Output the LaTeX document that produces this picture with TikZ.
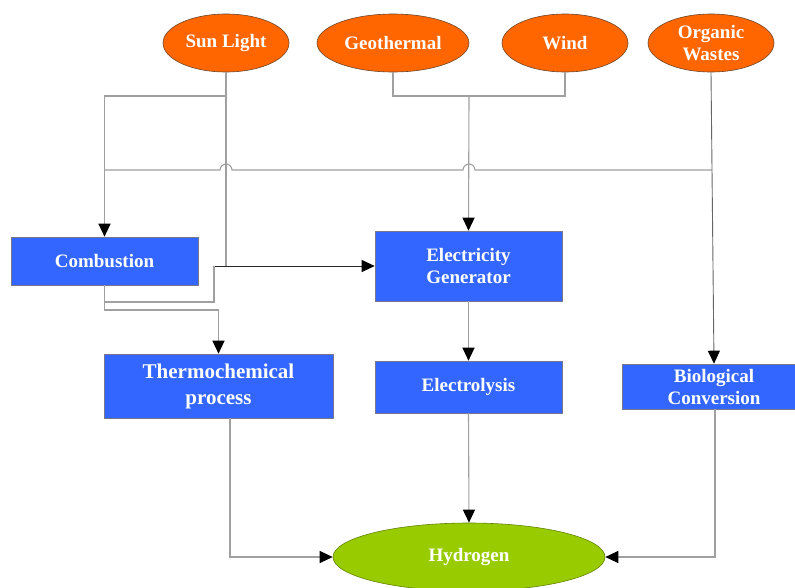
\documentclass[tikz,border=0pt]{standalone}
\usepackage{fontspec}
\setmainfont{Liberation Serif}
\usetikzlibrary{arrows.meta,shapes.geometric}
\definecolor{srcorange}{RGB}{255,102,0}
\definecolor{boxblue}{RGB}{51,102,255}
\definecolor{hydgreen}{RGB}{153,204,0}
\definecolor{linegray}{RGB}{160,160,160}
\begin{document}
\begin{tikzpicture}[x=1pt,y=-1pt,
  lbl/.style={text=white,font=\fontsize{19}{22}\selectfont\bfseries,align=center,inner sep=0pt},
  srcnode/.style={ellipse,fill=srcorange,draw={rgb,255:red,110;green,70;blue,40},line width=0.6pt,lbl},
  procbox/.style={rectangle,fill=boxblue,draw={rgb,255:red,120;green,120;blue,140},line width=0.6pt,lbl},
  hydnode/.style={ellipse,fill=hydgreen,draw={rgb,255:red,100;green,130;blue,0},line width=0.6pt,lbl},
  conn/.style={draw=linegray,line width=1.1pt},
  arr/.style={conn,-{Triangle[length=13pt,width=12pt,fill=black,color=black]}},
  darkarr/.style={draw=black!85,line width=0.9pt,-{Triangle[length=13pt,width=12pt,fill=black,color=black]}}
]
\useasboundingbox (0,0) rectangle (795,587);
\fill[white] (0,0) rectangle (795,587);

% sources
\node[srcnode,minimum width=126pt,minimum height=58pt] (sun) at (226,43) {Sun Light};
\node[srcnode,minimum width=152pt,minimum height=58pt] (geo) at (393,43) {Geothermal};
\node[srcnode,minimum width=126pt,minimum height=58pt] (wind) at (565,43) {Wind};
\node[srcnode,minimum width=126pt,minimum height=58pt] (org) at (711,43) {Organic\\Wastes};

% processes
\node[procbox,minimum width=187pt,minimum height=48pt] (comb) at (104.5,261) {Combustion};
\node[procbox,minimum width=229pt,minimum height=64pt,font=\fontsize{21}{26}\selectfont\bfseries] (thermo) at (218.5,386) {Thermochemical\\process};
\node[procbox,minimum width=187pt,minimum height=70pt] (elec) at (468.5,266) {Electricity\\Generator};
\node[procbox,minimum width=187pt,minimum height=52pt] (lysis) at (468.5,387) {Electrolysis};
\node[procbox,minimum width=184pt,minimum height=45pt] (bio) at (714,386.5) {Biological\\Conversion};
\node[hydnode,minimum width=272pt,minimum height=68pt] (hyd) at (469,557) {Hydrogen};

% junction coordinates
\coordinate (sunj) at (226,96);
\coordinate (gwj) at (469,96);
\coordinate (hl) at (104.5,170);
\coordinate (hr) at (712,170);
\coordinate (cb1) at (104.5,302);
\coordinate (cb2) at (214,302);
\coordinate (cb3) at (214,266);
\coordinate (ct1) at (104.5,310);
\coordinate (ct2) at (218.5,310);
\coordinate (sunturn) at (226,266);
\coordinate (thout) at (230,418);
\coordinate (bioout) at (715,409);

% sun light connectors
\draw[arr] (sun.south) -- (sunj) -| (comb.north);
\draw[conn] (sunj) -- (sunturn);
\draw[darkarr] (cb3) -- (elec.west);

% geothermal and wind
\draw[conn] (geo.south) |- (gwj);
\draw[conn] (wind.south) |- (gwj);
\draw[arr] (gwj) -- (elec.north);

% horizontal bus with hops
\draw[conn] (hl) -- (220,170) arc[start angle=180,end angle=360,radius=6]
  -- (463,170) arc[start angle=180,end angle=360,radius=6] -- (hr);

% organic wastes
\draw[darkarr,draw=black!60] (org.south) -- (bio.north);

% combustion outputs
\draw[conn] (comb.south) -- (cb1) -- (cb2) -- (cb3);
\draw[arr] (cb1) -- (ct1) -- (ct2) -- (thermo.north);

% electricity chain
\draw[arr] (elec.south) -- (lysis.north);
\draw[arr] (lysis.south) -- (hyd.north);

% to hydrogen
\draw[arr] (thout) |- (hyd.west);
\draw[arr] (bioout) |- (hyd.east);
\end{tikzpicture}
\end{document}
